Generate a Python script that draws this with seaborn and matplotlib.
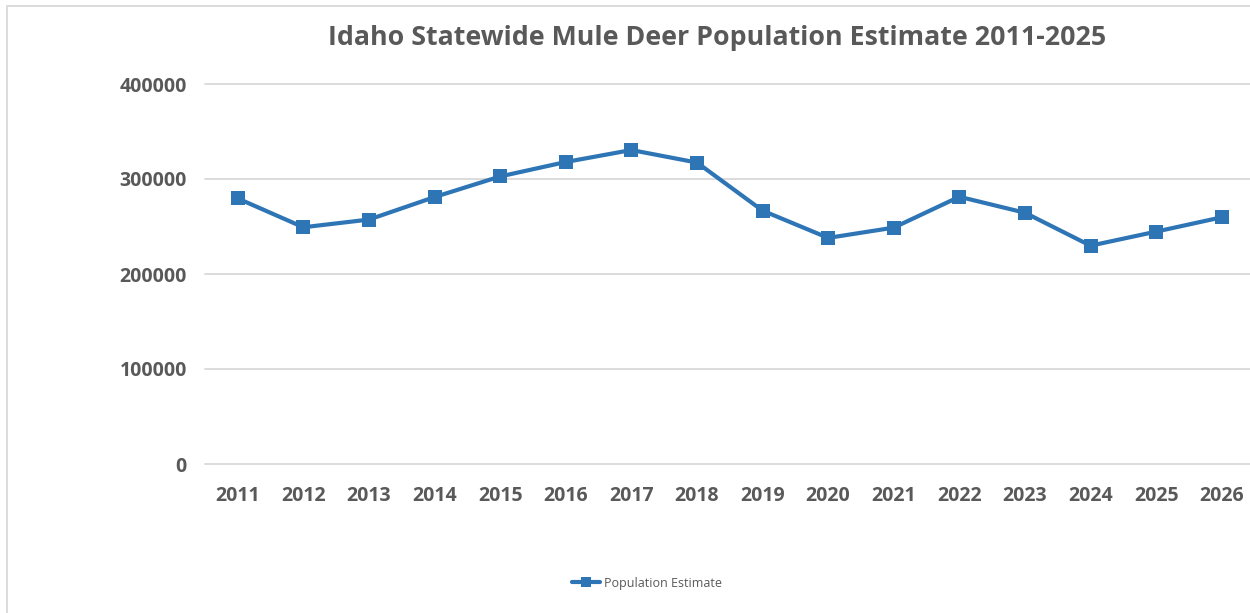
import matplotlib
matplotlib.use("Agg")
import matplotlib.pyplot as plt
from matplotlib.patches import Rectangle
from matplotlib.lines import Line2D
import seaborn as sns
import pandas as pd

years = [2011, 2012, 2013, 2014, 2015, 2016, 2017, 2018,
         2019, 2020, 2021, 2022, 2023, 2024, 2025, 2026]
population = [279500, 249200, 257300, 281000, 302700, 317900, 330500, 317300,
              266700, 238000, 248800, 281300, 264500, 229800, 244600, 259700]
y_ticks = [0, 100000, 200000, 300000, 400000]

title = "Idaho Statewide Mule Deer Population Estimate 2011-2025"
series_name = "Population Estimate"

LINE = "#2E75B6"
TEXT = "#595959"
GRID = "#D9D9D9"

sns.set_theme(style="white")
plt.rcParams["font.family"] = ["Open Sans", "DejaVu Sans"]

df = pd.DataFrame({"Year": years, "Population": population})

fig = plt.figure(figsize=(12.5, 6.13), dpi=100)
ax = fig.add_axes([205 / 1250, 1 - 464 / 613, 1049.5 / 1250, (464 - 84) / 613])

sns.lineplot(data=df, x="Year", y="Population", ax=ax, color=LINE,
             linewidth=3, marker="s", markersize=10, markeredgewidth=0,
             label=series_name, legend=False, zorder=3, clip_on=False)

ax.set_xlim(years[0] - 0.5, years[-1] + 0.5)
ax.set_ylim(y_ticks[0], y_ticks[-1])
ax.set_xticks(years)
ax.set_xticklabels([str(y) for y in years])
ax.set_yticks(y_ticks)
ax.set_yticklabels([str(v) for v in y_ticks])
ax.set_xlabel("")
ax.set_ylabel("")

for v in y_ticks:
    ax.axhline(v, color=GRID, linewidth=1.3, zorder=1, clip_on=False)

for s in ax.spines.values():
    s.set_visible(False)

ax.tick_params(axis="both", length=0, labelsize=14, labelcolor=TEXT)
ax.tick_params(axis="x", pad=16)
ax.tick_params(axis="y", pad=13)
for lab in ax.get_xticklabels() + ax.get_yticklabels():
    lab.set_fontweight("bold")

fig.text(717 / 1250, 1 - 38 / 613, title, ha="center", va="center",
         fontsize=19.3, fontweight="bold", color=TEXT)

handle = Line2D([], [], color=LINE, linewidth=3, marker="s", markersize=7,
                markeredgewidth=0)
fig.legend([handle], [series_name], loc="center",
           bbox_to_anchor=(647 / 1250, 1 - 583 / 613), frameon=False,
           fontsize=9, labelcolor=TEXT, handlelength=2.2, handletextpad=0.3)

fig.patches.append(Rectangle((7 / 1250, -0.05), 1.2, 1 - 6 / 613 + 0.05,
                             transform=fig.transFigure, fill=False,
                             edgecolor=GRID, linewidth=1.3))

fig.savefig("out.png", dpi=100, facecolor="white")
